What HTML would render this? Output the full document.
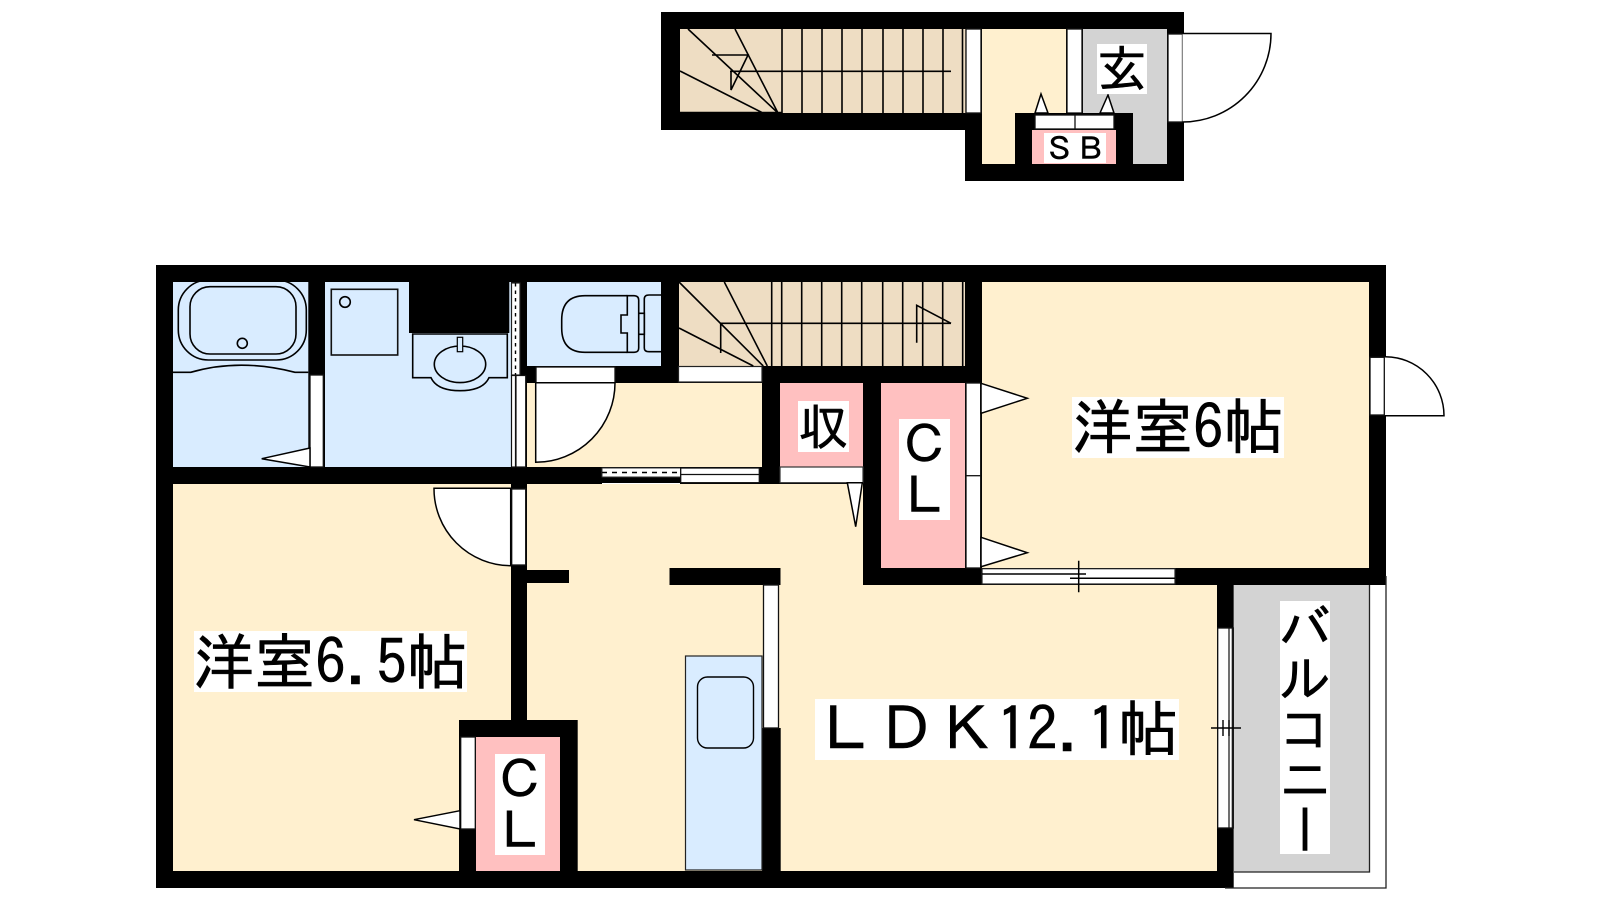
<!DOCTYPE html>
<html lang="ja"><head><meta charset="utf-8"><title>間取り図</title>
<style>
html,body{margin:0;padding:0;background:#fff;width:1600px;height:900px;overflow:hidden}
#w{position:relative;width:1600px;height:900px;overflow:hidden}
svg{position:absolute;left:0;top:0}
.l{position:absolute;background:#fff;color:#000;font-family:"IPAGothic","Liberation Sans","Noto Sans CJK JP",sans-serif;display:flex;align-items:center;justify-content:center;white-space:nowrap;line-height:1;-webkit-text-stroke:0.6px #000}
</style></head><body><div id="w">
<svg width="1600" height="900" viewBox="0 0 1600 900" fill="none" stroke-linecap="butt">
<!-- UPPER BLOCK -->
<polygon points="661,12 1184,12 1184,181 965,181 965,130 661,130" fill="#000"/>
<rect x="680" y="29" width="283" height="84" fill="#eeddc3"/>
<rect x="982" y="29" width="84" height="135" fill="#fff0cf"/>
<rect x="1083" y="29" width="84" height="135" fill="#d3d3d3"/>
<rect x="1067" y="29" width="15" height="84" fill="#fff" stroke="#111" stroke-width="1.3"/>
<rect x="966" y="29" width="15" height="84" fill="#fff" stroke="#111" stroke-width="1.3"/>
<rect x="963" y="29" width="2.3" height="84" fill="#eeddc3"/>
<rect x="1015" y="113" width="118" height="51" fill="#000"/>
<rect x="1035" y="115" width="79" height="14" fill="#fff" stroke="#111" stroke-width="1.3"/>
<path d="M1075 115V129" stroke="#111" stroke-width="1.3"/>
<rect x="1032" y="130" width="84" height="34" fill="#ffc0c0"/>
<g stroke="#000" stroke-width="1.5" fill="#fff">
<path d="M1035 113L1041 94L1048 113Z"/>
<path d="M1100 113L1108 95L1114 113Z"/>
</g>
<rect x="1168" y="34" width="17" height="88" fill="#fff"/>
<rect x="1168" y="34" width="14.5" height="88" fill="#fff" stroke="#111" stroke-width="1.3"/>
<path d="M1182.5 33.5H1271A88.5 88.5 0 0 1 1182.5 122" stroke="#000" stroke-width="1.5" fill="#fff"/>
<g stroke="#000" stroke-width="1.6">
<path d="M782 29V113M802 29V113M822 29V113M842 29V113M862 29V113M883 29V113M903 29V113M923 29V113M943 29V113M962.5 29V113"/>
<path d="M680 112.5H782M730 71.3H951M688 29L778 113M735 29L778 113M680 71L763 113"/>
<path d="M712 55H748L731 90V71"/>
</g>
<!-- MAIN BLOCK WALLS -->
<rect x="156" y="265" width="1230" height="320" fill="#000"/>
<rect x="156" y="585" width="1077.7" height="303" fill="#000"/>
<!-- rooms -->
<rect x="173" y="282" width="135.3" height="185" fill="#d9ecff"/>
<rect x="325" y="282" width="186" height="185" fill="#d9ecff"/>
<rect x="527" y="282" width="134" height="84" fill="#d9ecff"/>
<rect x="679" y="282" width="286" height="84" fill="#eeddc3"/>
<rect x="527" y="383" width="235" height="84" fill="#fff0cf"/>
<rect x="982" y="282" width="387" height="286" fill="#fff0cf"/>
<rect x="173" y="484" width="338" height="387" fill="#fff0cf"/>
<rect x="527" y="484" width="336" height="387" fill="#fff0cf"/>
<rect x="863" y="585" width="354" height="286" fill="#fff0cf"/>
<rect x="780" y="383" width="83" height="83.5" fill="#ffc0c0"/>
<rect x="881" y="383" width="84" height="185" fill="#ffc0c0"/>
<!-- interior blocks over LDK -->
<rect x="527" y="570" width="42" height="13" fill="#000"/>
<rect x="669.5" y="568" width="111" height="17" fill="#000"/>
<rect x="459" y="720" width="118.7" height="151" fill="#000"/>
<rect x="511" y="565.5" width="16" height="155" fill="#000"/>
<rect x="476" y="737" width="84" height="134" fill="#ffc0c0"/>
<rect x="762" y="728" width="18.7" height="143" fill="#000"/>
<!-- kitchen -->
<rect x="685.5" y="656" width="76.5" height="214" fill="#d9ecff" stroke="#222" stroke-width="1.2"/>
<rect x="697.5" y="677" width="56" height="71" rx="10" fill="none" stroke="#000" stroke-width="1.4"/>
<rect x="763.5" y="585" width="15" height="143" fill="#fff" stroke="#111" stroke-width="1.3"/>
<!-- door strips bath -->
<rect x="310" y="375" width="13.3" height="92" fill="#fff" stroke="#111" stroke-width="1.3"/>
<path d="M310 448L261.7 458.7L310 467Z" fill="#fff" stroke="#000" stroke-width="1.5"/>
<!-- tub -->
<g stroke="#000" stroke-width="1.6">
<rect x="178.3" y="280" width="128" height="80" rx="30"/>
<rect x="190" y="286.7" width="106" height="67.3" rx="20"/>
<circle cx="242.3" cy="343.3" r="5"/>
<path d="M173 372.3H190.7Q240 358 295 372.3H308.3"/>
</g>
<rect x="173" y="276" width="136" height="6" fill="#000"/>
<!-- laundry + sink -->
<rect x="409" y="282" width="100.3" height="51" fill="#000"/>
<g stroke="#000" stroke-width="1.6">
<rect x="331.3" y="289.3" width="66.4" height="65.7" stroke="#111"/>
<circle cx="345" cy="302" r="5.3"/>
<path d="M412.7 334H507.3V377.7H489Q483 390.7 460 390.7Q437 390.7 431 377.7H412.7Z"/>
<ellipse cx="460" cy="364.3" rx="25.7" ry="18.3"/>
<rect x="457.3" y="337.3" width="5.4" height="14.4" fill="#d9ecff" stroke-width="1.2"/>
</g>
<!-- sliding wash/toilet -->
<rect x="511.5" y="283" width="8.5" height="92" fill="#fff" stroke="#222" stroke-width="1.2"/>
<path d="M515.5 283V375" stroke="#000" stroke-width="1.4" stroke-dasharray="3.5 4"/>
<rect x="511.5" y="375.5" width="4" height="91.5" fill="#fff" stroke="#111" stroke-width="1.2"/>
<rect x="516" y="375.5" width="9.7" height="91.5" fill="#fff" stroke="#111" stroke-width="1.2"/>
<!-- toilet -->
<g stroke="#000" stroke-width="1.6">
<path d="M627.3 295.7H585Q561.7 295.7 561.7 320V328Q561.7 352.3 585 352.3H627.3"/>
<path d="M627.3 295.7H634Q638.7 295.7 638.7 300V348Q638.7 352.3 634 352.3H627.3V333H621V315H627.3Z"/>
<path d="M638.7 313.3H644.3V334.3H638.7"/>
<path d="M661 295H649Q644.3 295 644.3 299V348Q644.3 351.7 649 351.7H661"/>
</g>
<!-- toilet door -->
<rect x="527" y="366" width="8.7" height="17" fill="#000"/>
<rect x="536" y="367" width="79" height="15.7" fill="#fff" stroke="#111" stroke-width="1.3"/>
<path d="M535.7 382.7H615A79.5 79.5 0 0 1 535.7 462.3Z" fill="#fff" stroke="#000" stroke-width="1.5"/>
<!-- stairs door strip -->
<rect x="678.5" y="366.5" width="83.5" height="15.5" fill="#fff" stroke="#222" stroke-width="1.2"/>
<!-- main stairs -->
<g stroke="#000" stroke-width="1.6">
<path d="M771.7 282V366M781.7 282V366M801.7 282V366M821.7 282V366M841.7 282V366M861.7 282V366M882.7 282V366M902.7 282V366M922.7 282V366M942.7 282V366M962.7 282V366"/>
<path d="M720.7 323.3H951M679 282L763.3 366M724.3 282L767.3 366M679 328L753.3 366"/>
<path d="M720.7 323V353M916.7 342.7V305.3L951 323.3"/>
</g>
<!-- sliding corridor -->
<rect x="602" y="468" width="78.7" height="9" fill="#fff" stroke="#333" stroke-width="1"/>
<path d="M602 472.5H680" stroke="#000" stroke-width="1.4" stroke-dasharray="5 5"/>
<rect x="602" y="483" width="78" height="1" fill="#fff"/>
<rect x="680.7" y="468" width="78.6" height="14.7" fill="#fff" stroke="#111" stroke-width="1.3"/>
<path d="M680.7 474.5H759.3" stroke="#111" stroke-width="1.3"/>
<!-- storage door -->
<rect x="780" y="467" width="83" height="15.7" fill="#fff" stroke="#333" stroke-width="1.2"/>
<path d="M847.3 482.7L855.7 526.7L862.3 482.7Z" fill="#fff" stroke="#000" stroke-width="1.5"/>
<!-- CL door room 6 -->
<rect x="966" y="383" width="14.7" height="185" fill="#fff" stroke="#111" stroke-width="1.3"/>
<path d="M966 475.7H980.7" stroke="#111" stroke-width="1.3"/>
<path d="M981 383.3L1027.3 398.3L981 413.3Z" fill="#fff" stroke="#000" stroke-width="1.5"/>
<path d="M981 537.3L1027.3 552.7L981 566.7Z" fill="#fff" stroke="#000" stroke-width="1.5"/>
<!-- window room 6 / LDK -->
<rect x="982" y="568.7" width="193" height="15.3" fill="#fff" stroke="#222" stroke-width="1.2"/>
<path d="M982 574H1086M1070 578.3H1175M1078.7 560.7V592.3" stroke="#000" stroke-width="1.5"/>
<!-- room 6 east door -->
<rect x="1370" y="357.3" width="16" height="57.7" fill="#fff"/>
<rect x="1370" y="357.3" width="14.3" height="57.7" fill="#fff" stroke="#111" stroke-width="1.3"/>
<path d="M1385 356.7A59 59 0 0 1 1444 415.7H1385" fill="#fff" stroke="#000" stroke-width="1.5"/>
<!-- room 6.5 door -->
<rect x="511.7" y="489" width="14" height="76" fill="#fff" stroke="#111" stroke-width="1.3"/>
<path d="M434 488.3H510.7V565.7A77 77 0 0 1 434 488.3Z" fill="#fff" stroke="#000" stroke-width="1.5"/>
<!-- CL 6.5 door -->
<rect x="460.7" y="737" width="14.6" height="92" fill="#fff" stroke="#111" stroke-width="1.3"/>
<path d="M460 810.7L414 819.7L460 829Z" fill="#fff" stroke="#000" stroke-width="1.5"/>
<!-- balcony -->
<rect x="1234" y="585" width="135.5" height="287" fill="#d3d3d3"/>
<path d="M1369.5 585V872H1234M1386 576V888H1225" stroke="#222" stroke-width="1.3"/>
<rect x="1217.7" y="628" width="15.6" height="200" fill="#fff" stroke="#111" stroke-width="1.3"/>
<path d="M1229 628V828M1232.3 628V828" stroke="#111" stroke-width="1.2"/>
<path d="M1211 728H1241M1223 720V736M1229 720V736" stroke="#000" stroke-width="1.4"/>
</svg>
<div class="l" style="left:1097px;top:44px;width:50px;height:50px;font-size:50px">玄</div>
<div class="l" style="left:1044px;top:133px;width:62px;height:30px;font-size:31px">ＳＢ</div>
<div class="l" style="left:798px;top:401px;width:51px;height:51px;font-size:50px">収</div>
<div class="l" style="left:899px;top:419px;width:51px;height:101px;font-size:51px;flex-direction:column">Ｃ<br>Ｌ</div>
<div class="l" style="left:495px;top:754px;width:50px;height:101px;font-size:51px;flex-direction:column">Ｃ<br>Ｌ</div>
<div class="l" style="left:1072px;top:397px;width:212px;height:61px;font-size:60.5px">洋室6帖</div>
<div class="l" style="left:194px;top:631px;width:273px;height:61px;font-size:61px">洋室6.5帖</div>
<div class="l" style="left:815px;top:699px;width:364px;height:61px;font-size:60.5px">ＬＤＫ12.1帖</div>
<div class="l" style="left:1280px;top:601px;width:50px;height:253px;font-size:52px;letter-spacing:-1.5px;writing-mode:vertical-rl;text-orientation:upright">バルコニー</div>
</div></body></html>
